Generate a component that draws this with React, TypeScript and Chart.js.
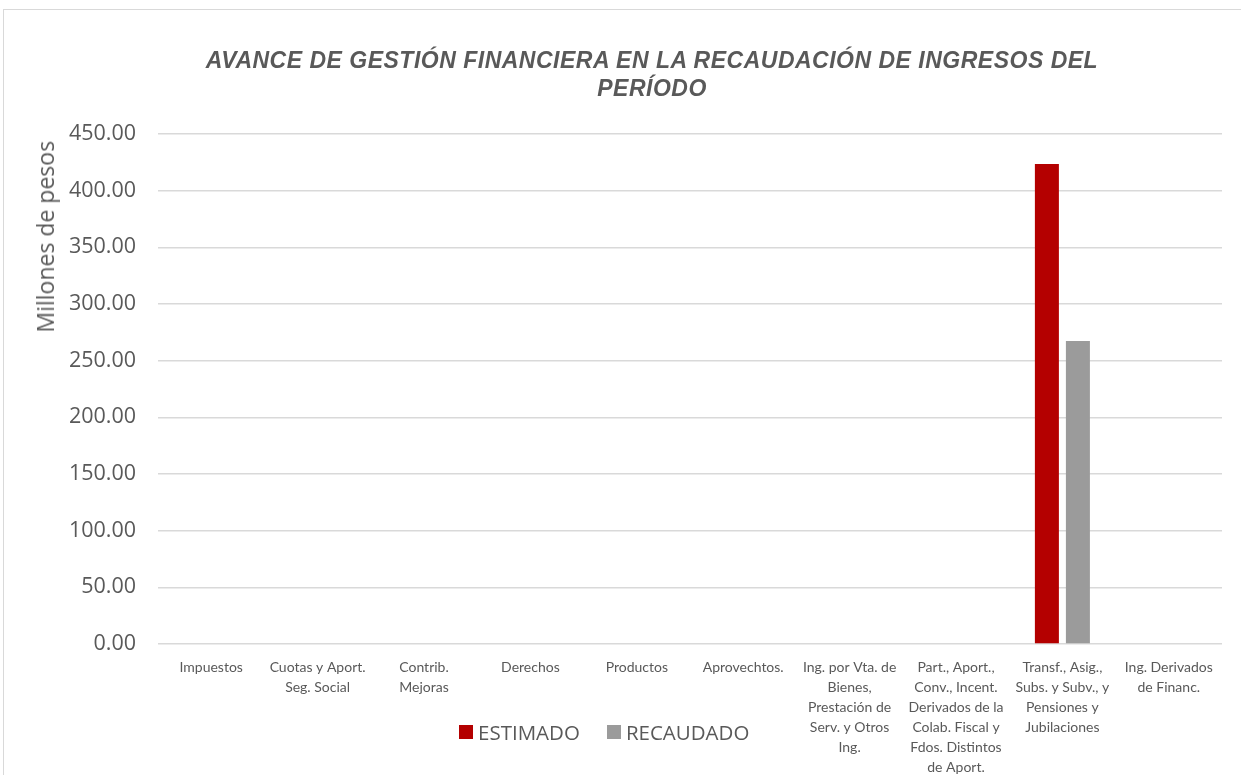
import React, { useEffect, useRef } from "react";
import { Chart, registerables } from "chart.js";

Chart.register(...registerables);

const categories: string[][] = [
  ["Impuestos"],
  ["Cuotas y Aport.", "Seg. Social"],
  ["Contrib.", "Mejoras"],
  ["Derechos"],
  ["Productos"],
  ["Aprovechtos."],
  ["Ing. por Vta. de", "Bienes,", "Prestación de", "Serv. y Otros", "Ing."],
  ["Part., Aport.,", "Conv., Incent.", "Derivados de la", "Colab. Fiscal y", "Fdos. Distintos", "de Aport."],
  ["Transf., Asig.,", "Subs. y Subv., y", "Pensiones y", "Jubilaciones"],
  ["Ing. Derivados", "de Financ."],
];

const estimado: number[] = [0, 0, 0, 0, 0, 0, 0, 0, 423.5, 0];
const recaudado: number[] = [0, 0, 0, 0, 0, 0, 0, 0, 267.4, 0];

const yTicks: number[] = [0, 50, 100, 150, 200, 250, 300, 350, 400, 450];

const titleLines: string[] = [
  "AVANCE DE GESTIÓN FINANCIERA EN LA RECAUDACIÓN DE INGRESOS DEL",
  "PERÍODO",
];
const yTitle = "Millones de pesos";

const seriesNames = ["ESTIMADO", "RECAUDADO"];
const seriesColors = ["#B40000", "#9B9B9B"];

export default function App() {
  const ref = useRef<HTMLCanvasElement>(null);

  useEffect(() => {
    document.body.style.margin = "0";
    const ctx = ref.current!;
    const chart = new Chart(ctx, {
      type: "bar",
      data: {
        labels: categories,
        datasets: [
          {
            label: seriesNames[0],
            data: estimado,
            backgroundColor: seriesColors[0],
            categoryPercentage: 0.583,
            barPercentage: 0.774,
          },
          {
            label: seriesNames[1],
            data: recaudado,
            backgroundColor: seriesColors[1],
            categoryPercentage: 0.583,
            barPercentage: 0.774,
          },
        ],
      },
      options: {
        animation: false,
        responsive: false,
        maintainAspectRatio: false,
        layout: { padding: { top: 134, left: 0, right: 19, bottom: 0 } },
        plugins: {
          legend: { display: false },
          tooltip: { enabled: false },
          title: { display: false },
        },
        scales: {
          x: {
            grid: { display: false },
            border: { display: false },
            ticks: {
              color: "#595959",
              font: { family: "Lato", size: 14, lineHeight: "20px" },
              maxRotation: 0,
              minRotation: 0,
              autoSkip: false,
              padding: 5,
            },
            afterFit: (scale: any) => {
              scale.height = 131;
            },
          },
          y: {
            min: yTicks[0],
            max: yTicks[yTicks.length - 1],
            afterBuildTicks: (scale: any) => {
              scale.ticks = yTicks.map((v) => ({ value: v }));
            },
            ticks: {
              color: "#595959",
              font: { family: "Open Sans", size: 21.5 },
              callback: (v: any) => Number(v).toFixed(2),
              padding: 22,
            },
            grid: { color: "#D9D9D9", lineWidth: 1.5, drawTicks: false },
            border: { display: false },
            title: { display: false },
            afterFit: (scale: any) => {
              scale.width = 158;
            },
          },
        },
      },
    });
    return () => chart.destroy();
  }, []);

  const titleStyle: React.CSSProperties = {
    position: "absolute",
    left: 52,
    width: 1200,
    fontFamily: "Liberation Sans",
    fontWeight: "bold",
    fontStyle: "italic",
    fontSize: 23,
    letterSpacing: 0.5,
    color: "#595959",
    whiteSpace: "nowrap",
    textAlign: "center",
    lineHeight: "26px",
  };

  return (
    <div style={{ position: "relative", width: 1241, height: 775, overflow: "hidden", background: "#fff" }}>
      <div
        style={{
          position: "absolute",
          left: 3,
          top: 9,
          width: 1260,
          height: 800,
          border: "1px solid #D9D9D9",
          boxSizing: "border-box",
        }}
      />
      <canvas ref={ref} width={1241} height={775} style={{ position: "absolute", left: 0, top: 0 }} />
      <div style={{ ...titleStyle, top: 47 }}>{titleLines[0]}</div>
      <div style={{ ...titleStyle, top: 75 }}>{titleLines[1]}</div>
      <div
        style={{
          position: "absolute",
          left: 30,
          top: 141,
          writingMode: "vertical-rl",
          transform: "rotate(180deg)",
          fontFamily: "Open Sans",
          fontSize: 23,
          lineHeight: "30px",
          color: "#595959",
          whiteSpace: "nowrap",
        }}
      >
        {yTitle}
      </div>
      <div
        style={{
          position: "absolute",
          left: 459,
          top: 718,
          display: "flex",
          alignItems: "center",
          fontFamily: "Open Sans",
          fontSize: 20.5,
          lineHeight: "28px",
          color: "#595959",
        }}
      >
        {seriesNames.map((n, i) => (
          <div key={n} style={{ display: "flex", alignItems: "center", marginRight: i === 0 ? 27 : 0 }}>
            <span style={{ display: "inline-block", width: 14, height: 14, background: seriesColors[i], marginRight: 5 }} />
            <span>{n}</span>
          </div>
        ))}
      </div>
    </div>
  );
}
